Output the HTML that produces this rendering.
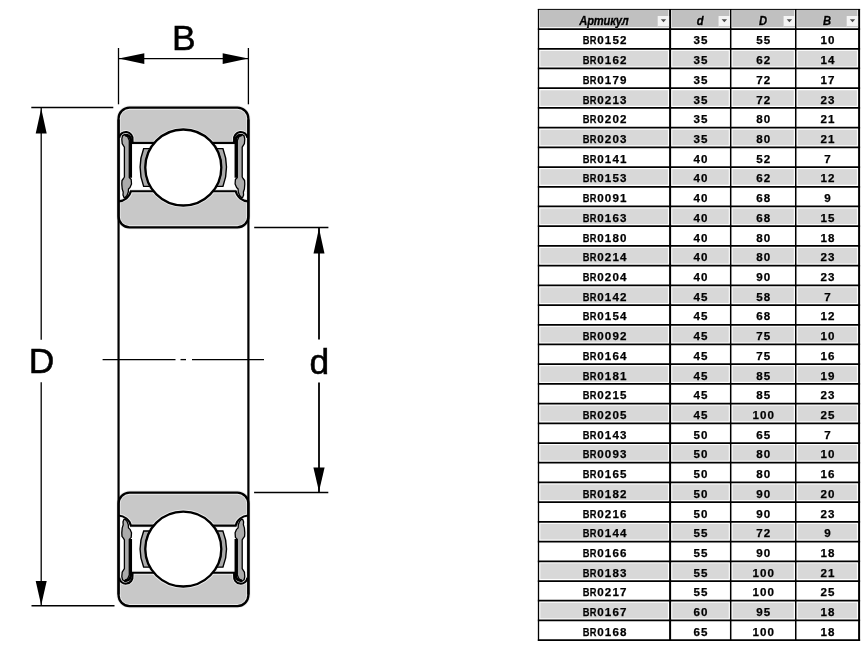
<!DOCTYPE html>
<html><head><meta charset="utf-8"><style>
html,body{margin:0;padding:0;background:#fff;width:867px;height:650px;overflow:hidden;position:relative}
body{filter:grayscale(1)}
.c,.h{position:absolute;width:80px;text-align:center;font-family:"Liberation Sans",sans-serif;font-weight:bold;font-size:11.6px;line-height:14px;color:#000;letter-spacing:0;-webkit-text-stroke:0.25px #000}
.h{font-style:italic;color:#000;letter-spacing:-0.2px;font-size:12px;transform:scaleX(0.93);-webkit-text-stroke:0.45px #000;text-shadow:0 0 1px #fff,0 0 1px #fff,0 0 1px #fff}
.c i{display:inline-block;width:7.55px;text-align:center;font-style:normal}
.c b{display:inline-block;transform:scaleX(0.8)}
</style></head><body>
<svg width="867" height="650" viewBox="0 0 867 650" style="position:absolute;left:0;top:0">
<rect x="118.55" y="107.65" width="129.85" height="119.65" rx="11" fill="#c8c8c8"/>
<rect x="118.55" y="142.9" width="129.85" height="48.3" fill="#fff"/>
<path d="M119.15 137.9 A6.6 6.6 0 0 1 132.5 139.6 L132.5 142.9 L118.55 142.9 Z" fill="#fff"/>
<path d="M118.55 201.4 C124 201 130 197 130.8 191.2 L118.55 191.2 Z" fill="#fff"/>
<path d="M247.45 137.9 A6.6 6.6 0 0 0 234.1 139.6 L234.1 142.9 L248.05 142.9 Z" fill="#fff"/>
<path d="M248.05 201.4 C242.6 201 236.6 197 235.8 191.2 L248.05 191.2 Z" fill="#fff"/>
<ellipse cx="183.3" cy="167.5" rx="38" ry="38" fill="none" stroke="#ebebeb" stroke-width="4.2"/>
<path d="M119.15 137.9 A6.6 6.6 0 0 1 132.5 139.6 L132.5 142.9" fill="none" stroke="#ebebeb" stroke-width="3.90"/>
<path d="M118.55 201.4 C124 201 130 197 130.8 191.2" fill="none" stroke="#ebebeb" stroke-width="3.90"/>
<path d="M247.45 137.9 A6.6 6.6 0 0 0 234.1 139.6 L234.1 142.9" fill="none" stroke="#ebebeb" stroke-width="3.90"/>
<path d="M248.05 201.4 C242.6 201 236.6 197 235.8 191.2" fill="none" stroke="#ebebeb" stroke-width="3.90"/>
<line x1="131.5" y1="142.9" x2="235.1" y2="142.9" stroke="#ebebeb" stroke-width="3.90"/>
<line x1="130" y1="191.2" x2="236.6" y2="191.2" stroke="#ebebeb" stroke-width="3.90"/>
<rect x="118.55" y="107.65" width="129.85" height="119.65" rx="11" fill="none" stroke="#ebebeb" stroke-width="4.10"/>
<path d="M119.15 137.9 A6.6 6.6 0 0 1 132.5 139.6 L132.5 142.9" fill="none" stroke="#000" stroke-width="2.1"/>
<path d="M118.55 201.4 C124 201 130 197 130.8 191.2" fill="none" stroke="#000" stroke-width="2.1"/>
<path d="M247.45 137.9 A6.6 6.6 0 0 0 234.1 139.6 L234.1 142.9" fill="none" stroke="#000" stroke-width="2.1"/>
<path d="M248.05 201.4 C242.6 201 236.6 197 235.8 191.2" fill="none" stroke="#000" stroke-width="2.1"/>
<line x1="131.5" y1="142.9" x2="235.1" y2="142.9" stroke="#000" stroke-width="2.1"/>
<line x1="130" y1="191.2" x2="236.6" y2="191.2" stroke="#000" stroke-width="2.1"/>
<rect x="118.55" y="107.65" width="129.85" height="119.65" rx="11" fill="none" stroke="#000" stroke-width="2.3"/>
<path d="M124.7 134.4 L127.8 137.1 L129.3 140.6 L129.3 177.5 L131.2 179.5 L131.5 184 L130 187.5 L128.5 189 L128.3 192 L127 195.5 L125 197.8 L124 197.5 L123 195 L123.2 192 L122.2 189 L121.8 184 L122 180.5 L123.5 178.5 L124.4 177 L124.4 147.1 L122.2 143.6 L121.8 139.1 L122.5 135.9 Z" fill="#ababab" stroke="#000" stroke-width="1.3" stroke-linejoin="round"/>
<path d="M124.6 135.3 A4.6 4.6 0 0 1 130.7 139.6 L130.7 177.8" fill="none" stroke="#000" stroke-width="2.7" stroke-linejoin="round"/>
<path d="M241.9 134.4 L238.8 137.1 L237.3 140.6 L237.3 177.5 L235.4 179.5 L235.1 184 L236.6 187.5 L238.1 189 L238.3 192 L239.6 195.5 L241.6 197.8 L242.6 197.5 L243.6 195 L243.4 192 L244.4 189 L244.8 184 L244.6 180.5 L243.1 178.5 L242.2 177 L242.2 147.1 L244.4 143.6 L244.8 139.1 L244.1 135.9 Z" fill="#ababab" stroke="#000" stroke-width="1.3" stroke-linejoin="round"/>
<path d="M242 135.3 A4.6 4.6 0 0 0 235.9 139.6 L235.9 177.8" fill="none" stroke="#000" stroke-width="2.7" stroke-linejoin="round"/>
<path d="M150.33 148.6 L143.7 148.6 A52.78 52.78 0 0 0 143.7 186.4 L150.33 186.4 A38 38 0 0 1 150.33 148.6 Z" fill="#ababab" stroke="#000" stroke-width="1.4"/>
<path d="M216.27 148.6 L222.9 148.6 A52.78 52.78 0 0 1 222.9 186.4 L216.27 186.4 A38 38 0 0 0 216.27 148.6 Z" fill="#ababab" stroke="#000" stroke-width="1.4"/>
<ellipse cx="183.3" cy="167.5" rx="38" ry="38" fill="#fff" stroke="#000" stroke-width="2.3"/>
<rect x="118.55" y="492.6" width="129.85" height="113.5" rx="11" fill="#c8c8c8"/>
<rect x="118.55" y="525.65" width="129.85" height="47.1" fill="#fff"/>
<path d="M119.15 577.75 A6.6 6.6 0 0 0 132.5 576.05 L132.5 572.75 L118.55 572.75 Z" fill="#fff"/>
<path d="M118.55 515.45 C124 515.85 130 519.85 130.8 525.65 L118.55 525.65 Z" fill="#fff"/>
<path d="M247.45 577.75 A6.6 6.6 0 0 1 234.1 576.05 L234.1 572.75 L248.05 572.75 Z" fill="#fff"/>
<path d="M248.05 515.45 C242.6 515.85 236.6 519.85 235.8 525.65 L248.05 525.65 Z" fill="#fff"/>
<ellipse cx="183.3" cy="549.05" rx="38" ry="37.45" fill="none" stroke="#ebebeb" stroke-width="4.2"/>
<path d="M119.15 577.75 A6.6 6.6 0 0 0 132.5 576.05 L132.5 572.75" fill="none" stroke="#ebebeb" stroke-width="3.90"/>
<path d="M118.55 515.45 C124 515.85 130 519.85 130.8 525.65" fill="none" stroke="#ebebeb" stroke-width="3.90"/>
<path d="M247.45 577.75 A6.6 6.6 0 0 1 234.1 576.05 L234.1 572.75" fill="none" stroke="#ebebeb" stroke-width="3.90"/>
<path d="M248.05 515.45 C242.6 515.85 236.6 519.85 235.8 525.65" fill="none" stroke="#ebebeb" stroke-width="3.90"/>
<line x1="131.5" y1="572.75" x2="235.1" y2="572.75" stroke="#ebebeb" stroke-width="3.90"/>
<line x1="130" y1="525.65" x2="236.6" y2="525.65" stroke="#ebebeb" stroke-width="3.90"/>
<rect x="118.55" y="492.6" width="129.85" height="113.5" rx="11" fill="none" stroke="#ebebeb" stroke-width="4.10"/>
<path d="M119.15 577.75 A6.6 6.6 0 0 0 132.5 576.05 L132.5 572.75" fill="none" stroke="#000" stroke-width="2.1"/>
<path d="M118.55 515.45 C124 515.85 130 519.85 130.8 525.65" fill="none" stroke="#000" stroke-width="2.1"/>
<path d="M247.45 577.75 A6.6 6.6 0 0 1 234.1 576.05 L234.1 572.75" fill="none" stroke="#000" stroke-width="2.1"/>
<path d="M248.05 515.45 C242.6 515.85 236.6 519.85 235.8 525.65" fill="none" stroke="#000" stroke-width="2.1"/>
<line x1="131.5" y1="572.75" x2="235.1" y2="572.75" stroke="#000" stroke-width="2.1"/>
<line x1="130" y1="525.65" x2="236.6" y2="525.65" stroke="#000" stroke-width="2.1"/>
<rect x="118.55" y="492.6" width="129.85" height="113.5" rx="11" fill="none" stroke="#000" stroke-width="2.3"/>
<path d="M124.7 581.25 L127.8 578.55 L129.3 575.05 L129.3 539.35 L131.2 537.35 L131.5 532.85 L130 529.35 L128.5 527.85 L128.3 524.85 L127 521.35 L125 519.05 L124 519.35 L123 521.85 L123.2 524.85 L122.2 527.85 L121.8 532.85 L122 536.35 L123.5 538.35 L124.4 539.85 L124.4 568.55 L122.2 572.05 L121.8 576.55 L122.5 579.75 Z" fill="#ababab" stroke="#000" stroke-width="1.3" stroke-linejoin="round"/>
<path d="M124.6 580.35 A4.6 4.6 0 0 0 130.7 576.05 L130.7 539.05" fill="none" stroke="#000" stroke-width="2.7" stroke-linejoin="round"/>
<path d="M241.9 581.25 L238.8 578.55 L237.3 575.05 L237.3 539.35 L235.4 537.35 L235.1 532.85 L236.6 529.35 L238.1 527.85 L238.3 524.85 L239.6 521.35 L241.6 519.05 L242.6 519.35 L243.6 521.85 L243.4 524.85 L244.4 527.85 L244.8 532.85 L244.6 536.35 L243.1 538.35 L242.2 539.85 L242.2 568.55 L244.4 572.05 L244.8 576.55 L244.1 579.75 Z" fill="#ababab" stroke="#000" stroke-width="1.3" stroke-linejoin="round"/>
<path d="M242 580.35 A4.6 4.6 0 0 1 235.9 576.05 L235.9 539.05" fill="none" stroke="#000" stroke-width="2.7" stroke-linejoin="round"/>
<path d="M150.03 530.95 L143.7 530.95 A48.55 48.55 0 0 0 143.7 567.15 L150.03 567.15 A38 37.45 0 0 1 150.03 530.95 Z" fill="#ababab" stroke="#000" stroke-width="1.4"/>
<path d="M216.57 530.95 L222.9 530.95 A48.55 48.55 0 0 1 222.9 567.15 L216.57 567.15 A38 37.45 0 0 0 216.57 530.95 Z" fill="#ababab" stroke="#000" stroke-width="1.4"/>
<ellipse cx="183.3" cy="549.05" rx="38" ry="37.45" fill="#fff" stroke="#000" stroke-width="2.3"/>
<line x1="118.55" y1="119.5" x2="118.55" y2="594.5" stroke="#000" stroke-width="2.2"/>
<line x1="248.4" y1="119.5" x2="248.4" y2="594.5" stroke="#000" stroke-width="2.2"/>
<g stroke="#000" stroke-width="1.3">
<line x1="102.6" y1="359.6" x2="175.5" y2="359.6"/>
<line x1="180.5" y1="359.6" x2="186" y2="359.6"/>
<line x1="192" y1="359.6" x2="264" y2="359.6"/>
<line x1="118.5" y1="48" x2="118.5" y2="104.3"/>
<line x1="248.4" y1="48" x2="248.4" y2="104.3"/>
<line x1="118.5" y1="58.6" x2="248.4" y2="58.6"/>
<line x1="31.3" y1="107.45" x2="113.3" y2="107.45" stroke-width="1.5"/>
<line x1="31.5" y1="605.85" x2="114.5" y2="605.85" stroke-width="1.5"/>
<line x1="41.2" y1="107.4" x2="41.2" y2="339.7"/>
<line x1="41.2" y1="382.2" x2="41.2" y2="606"/>
<line x1="254.2" y1="227.5" x2="328.4" y2="227.5" stroke-width="1.5"/>
<line x1="254.1" y1="492.4" x2="328.3" y2="492.4" stroke-width="1.5"/>
<line x1="319" y1="227.5" x2="319" y2="339.5" stroke-width="1.8"/>
<line x1="319" y1="382.4" x2="319" y2="492.4" stroke-width="1.8"/>
</g>
<path d="M118.8 58.6 L144.3 53.2 L144.3 64 Z" fill="#000"/>
<path d="M248.2 58.6 L222.7 64 L222.7 53.2 Z" fill="#000"/>
<path d="M41.2 108.4 L46.7 133.6 L35.7 133.6 Z" fill="#000"/>
<path d="M41.2 605.3 L35.7 581.1 L46.7 581.1 Z" fill="#000"/>
<path d="M319 228.2 L324.5 253.4 L313.5 253.4 Z" fill="#000"/>
<path d="M319 491.6 L313.4 467.4 L324.6 467.4 Z" fill="#000"/>
<g font-family="Liberation Sans, sans-serif" font-size="35.4" fill="#000" stroke="#000" stroke-width="0.55">
<text x="183.8" y="49.9" text-anchor="middle">B</text>
<text x="41.6" y="373.2" text-anchor="middle">D</text>
<text x="319.4" y="374.2" text-anchor="middle">d</text>
</g>
</svg>
<svg width="867" height="650" style="position:absolute;left:0;top:0"><rect x="538.5" y="9.4" width="320.60" height="630.75" fill="#fff"/><rect x="539.85" y="9.90" width="128.55" height="17.27" fill="#c0c0c0"/><rect x="671.80" y="9.90" width="57.45" height="17.27" fill="#c0c0c0"/><rect x="732.15" y="9.90" width="62.15" height="17.27" fill="#c0c0c0"/><rect x="797.20" y="9.90" width="60.20" height="17.27" fill="#c0c0c0"/><rect x="540.35" y="50.84" width="127.55" height="15.56" fill="#d8d8d8"/><rect x="672.30" y="50.84" width="56.45" height="15.56" fill="#d8d8d8"/><rect x="732.65" y="50.84" width="61.15" height="15.56" fill="#d8d8d8"/><rect x="797.70" y="50.84" width="59.20" height="15.56" fill="#d8d8d8"/><rect x="540.35" y="90.26" width="127.55" height="15.56" fill="#d8d8d8"/><rect x="672.30" y="90.26" width="56.45" height="15.56" fill="#d8d8d8"/><rect x="732.65" y="90.26" width="61.15" height="15.56" fill="#d8d8d8"/><rect x="797.70" y="90.26" width="59.20" height="15.56" fill="#d8d8d8"/><rect x="540.35" y="129.69" width="127.55" height="15.56" fill="#d8d8d8"/><rect x="672.30" y="129.69" width="56.45" height="15.56" fill="#d8d8d8"/><rect x="732.65" y="129.69" width="61.15" height="15.56" fill="#d8d8d8"/><rect x="797.70" y="129.69" width="59.20" height="15.56" fill="#d8d8d8"/><rect x="540.35" y="169.12" width="127.55" height="15.56" fill="#d8d8d8"/><rect x="672.30" y="169.12" width="56.45" height="15.56" fill="#d8d8d8"/><rect x="732.65" y="169.12" width="61.15" height="15.56" fill="#d8d8d8"/><rect x="797.70" y="169.12" width="59.20" height="15.56" fill="#d8d8d8"/><rect x="540.35" y="208.54" width="127.55" height="15.56" fill="#d8d8d8"/><rect x="672.30" y="208.54" width="56.45" height="15.56" fill="#d8d8d8"/><rect x="732.65" y="208.54" width="61.15" height="15.56" fill="#d8d8d8"/><rect x="797.70" y="208.54" width="59.20" height="15.56" fill="#d8d8d8"/><rect x="540.35" y="247.97" width="127.55" height="15.56" fill="#d8d8d8"/><rect x="672.30" y="247.97" width="56.45" height="15.56" fill="#d8d8d8"/><rect x="732.65" y="247.97" width="61.15" height="15.56" fill="#d8d8d8"/><rect x="797.70" y="247.97" width="59.20" height="15.56" fill="#d8d8d8"/><rect x="540.35" y="287.39" width="127.55" height="15.56" fill="#d8d8d8"/><rect x="672.30" y="287.39" width="56.45" height="15.56" fill="#d8d8d8"/><rect x="732.65" y="287.39" width="61.15" height="15.56" fill="#d8d8d8"/><rect x="797.70" y="287.39" width="59.20" height="15.56" fill="#d8d8d8"/><rect x="540.35" y="326.82" width="127.55" height="15.56" fill="#d8d8d8"/><rect x="672.30" y="326.82" width="56.45" height="15.56" fill="#d8d8d8"/><rect x="732.65" y="326.82" width="61.15" height="15.56" fill="#d8d8d8"/><rect x="797.70" y="326.82" width="59.20" height="15.56" fill="#d8d8d8"/><rect x="540.35" y="366.25" width="127.55" height="15.56" fill="#d8d8d8"/><rect x="672.30" y="366.25" width="56.45" height="15.56" fill="#d8d8d8"/><rect x="732.65" y="366.25" width="61.15" height="15.56" fill="#d8d8d8"/><rect x="797.70" y="366.25" width="59.20" height="15.56" fill="#d8d8d8"/><rect x="540.35" y="405.67" width="127.55" height="15.56" fill="#d8d8d8"/><rect x="672.30" y="405.67" width="56.45" height="15.56" fill="#d8d8d8"/><rect x="732.65" y="405.67" width="61.15" height="15.56" fill="#d8d8d8"/><rect x="797.70" y="405.67" width="59.20" height="15.56" fill="#d8d8d8"/><rect x="540.35" y="445.10" width="127.55" height="15.56" fill="#d8d8d8"/><rect x="672.30" y="445.10" width="56.45" height="15.56" fill="#d8d8d8"/><rect x="732.65" y="445.10" width="61.15" height="15.56" fill="#d8d8d8"/><rect x="797.70" y="445.10" width="59.20" height="15.56" fill="#d8d8d8"/><rect x="540.35" y="484.52" width="127.55" height="15.56" fill="#d8d8d8"/><rect x="672.30" y="484.52" width="56.45" height="15.56" fill="#d8d8d8"/><rect x="732.65" y="484.52" width="61.15" height="15.56" fill="#d8d8d8"/><rect x="797.70" y="484.52" width="59.20" height="15.56" fill="#d8d8d8"/><rect x="540.35" y="523.95" width="127.55" height="15.56" fill="#d8d8d8"/><rect x="672.30" y="523.95" width="56.45" height="15.56" fill="#d8d8d8"/><rect x="732.65" y="523.95" width="61.15" height="15.56" fill="#d8d8d8"/><rect x="797.70" y="523.95" width="59.20" height="15.56" fill="#d8d8d8"/><rect x="540.35" y="563.38" width="127.55" height="15.56" fill="#d8d8d8"/><rect x="672.30" y="563.38" width="56.45" height="15.56" fill="#d8d8d8"/><rect x="732.65" y="563.38" width="61.15" height="15.56" fill="#d8d8d8"/><rect x="797.70" y="563.38" width="59.20" height="15.56" fill="#d8d8d8"/><rect x="540.35" y="602.80" width="127.55" height="15.56" fill="#d8d8d8"/><rect x="672.30" y="602.80" width="56.45" height="15.56" fill="#d8d8d8"/><rect x="732.65" y="602.80" width="61.15" height="15.56" fill="#d8d8d8"/><rect x="797.70" y="602.80" width="59.20" height="15.56" fill="#d8d8d8"/><g stroke="#000"><line x1="537.85" y1="9.4" x2="860.1" y2="9.4" stroke-width="1.0"/><line x1="537.85" y1="29.05" x2="860.1" y2="29.05" stroke-width="1.75"/><line x1="537.85" y1="48.76" x2="860.1" y2="48.76" stroke-width="1.75"/><line x1="537.85" y1="68.48" x2="860.1" y2="68.48" stroke-width="1.75"/><line x1="537.85" y1="88.19" x2="860.1" y2="88.19" stroke-width="1.75"/><line x1="537.85" y1="107.90" x2="860.1" y2="107.90" stroke-width="1.75"/><line x1="537.85" y1="127.61" x2="860.1" y2="127.61" stroke-width="1.75"/><line x1="537.85" y1="147.33" x2="860.1" y2="147.33" stroke-width="1.75"/><line x1="537.85" y1="167.04" x2="860.1" y2="167.04" stroke-width="1.75"/><line x1="537.85" y1="186.75" x2="860.1" y2="186.75" stroke-width="1.75"/><line x1="537.85" y1="206.47" x2="860.1" y2="206.47" stroke-width="1.75"/><line x1="537.85" y1="226.18" x2="860.1" y2="226.18" stroke-width="1.75"/><line x1="537.85" y1="245.89" x2="860.1" y2="245.89" stroke-width="1.75"/><line x1="537.85" y1="265.61" x2="860.1" y2="265.61" stroke-width="1.75"/><line x1="537.85" y1="285.32" x2="860.1" y2="285.32" stroke-width="1.75"/><line x1="537.85" y1="305.03" x2="860.1" y2="305.03" stroke-width="1.75"/><line x1="537.85" y1="324.75" x2="860.1" y2="324.75" stroke-width="1.75"/><line x1="537.85" y1="344.46" x2="860.1" y2="344.46" stroke-width="1.75"/><line x1="537.85" y1="364.17" x2="860.1" y2="364.17" stroke-width="1.75"/><line x1="537.85" y1="383.88" x2="860.1" y2="383.88" stroke-width="1.75"/><line x1="537.85" y1="403.60" x2="860.1" y2="403.60" stroke-width="1.75"/><line x1="537.85" y1="423.31" x2="860.1" y2="423.31" stroke-width="1.75"/><line x1="537.85" y1="443.02" x2="860.1" y2="443.02" stroke-width="1.75"/><line x1="537.85" y1="462.74" x2="860.1" y2="462.74" stroke-width="1.75"/><line x1="537.85" y1="482.45" x2="860.1" y2="482.45" stroke-width="1.75"/><line x1="537.85" y1="502.16" x2="860.1" y2="502.16" stroke-width="1.75"/><line x1="537.85" y1="521.88" x2="860.1" y2="521.88" stroke-width="1.75"/><line x1="537.85" y1="541.59" x2="860.1" y2="541.59" stroke-width="1.75"/><line x1="537.85" y1="561.30" x2="860.1" y2="561.30" stroke-width="1.75"/><line x1="537.85" y1="581.01" x2="860.1" y2="581.01" stroke-width="1.75"/><line x1="537.85" y1="600.73" x2="860.1" y2="600.73" stroke-width="1.75"/><line x1="537.85" y1="620.44" x2="860.1" y2="620.44" stroke-width="1.75"/><line x1="537.85" y1="640.15" x2="860.1" y2="640.15" stroke-width="1.75"/><line x1="538.5" y1="8.9" x2="538.5" y2="641.03" stroke-width="1.3"/><line x1="670.1" y1="8.9" x2="670.1" y2="641.03" stroke-width="2.0"/><line x1="730.7" y1="8.9" x2="730.7" y2="641.03" stroke-width="1.5"/><line x1="795.75" y1="8.9" x2="795.75" y2="641.03" stroke-width="1.5"/><line x1="859.1" y1="8.9" x2="859.1" y2="641.03" stroke-width="2.0"/></g><rect x="657.70" y="16" width="11.4" height="11.4" fill="#f3f4f7"/><rect x="657.70" y="26.2" width="11.4" height="0.9" fill="#b9bfc9"/><path d="M660.80 19.3 L666.20 19.3 L663.50 22.2 Z" fill="#4a4a4a"/><rect x="718.55" y="16" width="11.4" height="11.4" fill="#f3f4f7"/><rect x="718.55" y="26.2" width="11.4" height="0.9" fill="#b9bfc9"/><path d="M721.65 19.3 L727.05 19.3 L724.35 22.2 Z" fill="#4a4a4a"/><rect x="783.60" y="16" width="11.4" height="11.4" fill="#f3f4f7"/><rect x="783.60" y="26.2" width="11.4" height="0.9" fill="#b9bfc9"/><path d="M786.70 19.3 L792.10 19.3 L789.40 22.2 Z" fill="#4a4a4a"/><rect x="846.70" y="16" width="11.4" height="11.4" fill="#f3f4f7"/><rect x="846.70" y="26.2" width="11.4" height="0.9" fill="#b9bfc9"/><path d="M849.80 19.3 L855.20 19.3 L852.50 22.2 Z" fill="#4a4a4a"/></svg>
<div class="h" style="left:564.30px;top:13.9px">Артикул</div>
<div class="h" style="left:660.40px;top:13.9px">d</div>
<div class="h" style="left:723.23px;top:13.9px">D</div>
<div class="h" style="left:787.42px;top:13.9px">B</div>
<div class="c" style="left:564.30px;top:33.40px"><i><b>B</b></i><i><b>R</b></i><i>0</i><i>1</i><i>5</i><i>2</i></div>
<div class="c" style="left:660.40px;top:33.40px"><i>3</i><i>5</i></div>
<div class="c" style="left:723.23px;top:33.40px"><i>5</i><i>5</i></div>
<div class="c" style="left:787.42px;top:33.40px"><i>1</i><i>0</i></div>
<div class="c" style="left:564.30px;top:53.11px"><i><b>B</b></i><i><b>R</b></i><i>0</i><i>1</i><i>6</i><i>2</i></div>
<div class="c" style="left:660.40px;top:53.11px"><i>3</i><i>5</i></div>
<div class="c" style="left:723.23px;top:53.11px"><i>6</i><i>2</i></div>
<div class="c" style="left:787.42px;top:53.11px"><i>1</i><i>4</i></div>
<div class="c" style="left:564.30px;top:72.83px"><i><b>B</b></i><i><b>R</b></i><i>0</i><i>1</i><i>7</i><i>9</i></div>
<div class="c" style="left:660.40px;top:72.83px"><i>3</i><i>5</i></div>
<div class="c" style="left:723.23px;top:72.83px"><i>7</i><i>2</i></div>
<div class="c" style="left:787.42px;top:72.83px"><i>1</i><i>7</i></div>
<div class="c" style="left:564.30px;top:92.54px"><i><b>B</b></i><i><b>R</b></i><i>0</i><i>2</i><i>1</i><i>3</i></div>
<div class="c" style="left:660.40px;top:92.54px"><i>3</i><i>5</i></div>
<div class="c" style="left:723.23px;top:92.54px"><i>7</i><i>2</i></div>
<div class="c" style="left:787.42px;top:92.54px"><i>2</i><i>3</i></div>
<div class="c" style="left:564.30px;top:112.25px"><i><b>B</b></i><i><b>R</b></i><i>0</i><i>2</i><i>0</i><i>2</i></div>
<div class="c" style="left:660.40px;top:112.25px"><i>3</i><i>5</i></div>
<div class="c" style="left:723.23px;top:112.25px"><i>8</i><i>0</i></div>
<div class="c" style="left:787.42px;top:112.25px"><i>2</i><i>1</i></div>
<div class="c" style="left:564.30px;top:131.97px"><i><b>B</b></i><i><b>R</b></i><i>0</i><i>2</i><i>0</i><i>3</i></div>
<div class="c" style="left:660.40px;top:131.97px"><i>3</i><i>5</i></div>
<div class="c" style="left:723.23px;top:131.97px"><i>8</i><i>0</i></div>
<div class="c" style="left:787.42px;top:131.97px"><i>2</i><i>1</i></div>
<div class="c" style="left:564.30px;top:151.68px"><i><b>B</b></i><i><b>R</b></i><i>0</i><i>1</i><i>4</i><i>1</i></div>
<div class="c" style="left:660.40px;top:151.68px"><i>4</i><i>0</i></div>
<div class="c" style="left:723.23px;top:151.68px"><i>5</i><i>2</i></div>
<div class="c" style="left:787.42px;top:151.68px"><i>7</i></div>
<div class="c" style="left:564.30px;top:171.39px"><i><b>B</b></i><i><b>R</b></i><i>0</i><i>1</i><i>5</i><i>3</i></div>
<div class="c" style="left:660.40px;top:171.39px"><i>4</i><i>0</i></div>
<div class="c" style="left:723.23px;top:171.39px"><i>6</i><i>2</i></div>
<div class="c" style="left:787.42px;top:171.39px"><i>1</i><i>2</i></div>
<div class="c" style="left:564.30px;top:191.10px"><i><b>B</b></i><i><b>R</b></i><i>0</i><i>0</i><i>9</i><i>1</i></div>
<div class="c" style="left:660.40px;top:191.10px"><i>4</i><i>0</i></div>
<div class="c" style="left:723.23px;top:191.10px"><i>6</i><i>8</i></div>
<div class="c" style="left:787.42px;top:191.10px"><i>9</i></div>
<div class="c" style="left:564.30px;top:210.82px"><i><b>B</b></i><i><b>R</b></i><i>0</i><i>1</i><i>6</i><i>3</i></div>
<div class="c" style="left:660.40px;top:210.82px"><i>4</i><i>0</i></div>
<div class="c" style="left:723.23px;top:210.82px"><i>6</i><i>8</i></div>
<div class="c" style="left:787.42px;top:210.82px"><i>1</i><i>5</i></div>
<div class="c" style="left:564.30px;top:230.53px"><i><b>B</b></i><i><b>R</b></i><i>0</i><i>1</i><i>8</i><i>0</i></div>
<div class="c" style="left:660.40px;top:230.53px"><i>4</i><i>0</i></div>
<div class="c" style="left:723.23px;top:230.53px"><i>8</i><i>0</i></div>
<div class="c" style="left:787.42px;top:230.53px"><i>1</i><i>8</i></div>
<div class="c" style="left:564.30px;top:250.24px"><i><b>B</b></i><i><b>R</b></i><i>0</i><i>2</i><i>1</i><i>4</i></div>
<div class="c" style="left:660.40px;top:250.24px"><i>4</i><i>0</i></div>
<div class="c" style="left:723.23px;top:250.24px"><i>8</i><i>0</i></div>
<div class="c" style="left:787.42px;top:250.24px"><i>2</i><i>3</i></div>
<div class="c" style="left:564.30px;top:269.96px"><i><b>B</b></i><i><b>R</b></i><i>0</i><i>2</i><i>0</i><i>4</i></div>
<div class="c" style="left:660.40px;top:269.96px"><i>4</i><i>0</i></div>
<div class="c" style="left:723.23px;top:269.96px"><i>9</i><i>0</i></div>
<div class="c" style="left:787.42px;top:269.96px"><i>2</i><i>3</i></div>
<div class="c" style="left:564.30px;top:289.67px"><i><b>B</b></i><i><b>R</b></i><i>0</i><i>1</i><i>4</i><i>2</i></div>
<div class="c" style="left:660.40px;top:289.67px"><i>4</i><i>5</i></div>
<div class="c" style="left:723.23px;top:289.67px"><i>5</i><i>8</i></div>
<div class="c" style="left:787.42px;top:289.67px"><i>7</i></div>
<div class="c" style="left:564.30px;top:309.38px"><i><b>B</b></i><i><b>R</b></i><i>0</i><i>1</i><i>5</i><i>4</i></div>
<div class="c" style="left:660.40px;top:309.38px"><i>4</i><i>5</i></div>
<div class="c" style="left:723.23px;top:309.38px"><i>6</i><i>8</i></div>
<div class="c" style="left:787.42px;top:309.38px"><i>1</i><i>2</i></div>
<div class="c" style="left:564.30px;top:329.10px"><i><b>B</b></i><i><b>R</b></i><i>0</i><i>0</i><i>9</i><i>2</i></div>
<div class="c" style="left:660.40px;top:329.10px"><i>4</i><i>5</i></div>
<div class="c" style="left:723.23px;top:329.10px"><i>7</i><i>5</i></div>
<div class="c" style="left:787.42px;top:329.10px"><i>1</i><i>0</i></div>
<div class="c" style="left:564.30px;top:348.81px"><i><b>B</b></i><i><b>R</b></i><i>0</i><i>1</i><i>6</i><i>4</i></div>
<div class="c" style="left:660.40px;top:348.81px"><i>4</i><i>5</i></div>
<div class="c" style="left:723.23px;top:348.81px"><i>7</i><i>5</i></div>
<div class="c" style="left:787.42px;top:348.81px"><i>1</i><i>6</i></div>
<div class="c" style="left:564.30px;top:368.52px"><i><b>B</b></i><i><b>R</b></i><i>0</i><i>1</i><i>8</i><i>1</i></div>
<div class="c" style="left:660.40px;top:368.52px"><i>4</i><i>5</i></div>
<div class="c" style="left:723.23px;top:368.52px"><i>8</i><i>5</i></div>
<div class="c" style="left:787.42px;top:368.52px"><i>1</i><i>9</i></div>
<div class="c" style="left:564.30px;top:388.23px"><i><b>B</b></i><i><b>R</b></i><i>0</i><i>2</i><i>1</i><i>5</i></div>
<div class="c" style="left:660.40px;top:388.23px"><i>4</i><i>5</i></div>
<div class="c" style="left:723.23px;top:388.23px"><i>8</i><i>5</i></div>
<div class="c" style="left:787.42px;top:388.23px"><i>2</i><i>3</i></div>
<div class="c" style="left:564.30px;top:407.95px"><i><b>B</b></i><i><b>R</b></i><i>0</i><i>2</i><i>0</i><i>5</i></div>
<div class="c" style="left:660.40px;top:407.95px"><i>4</i><i>5</i></div>
<div class="c" style="left:723.23px;top:407.95px"><i>1</i><i>0</i><i>0</i></div>
<div class="c" style="left:787.42px;top:407.95px"><i>2</i><i>5</i></div>
<div class="c" style="left:564.30px;top:427.66px"><i><b>B</b></i><i><b>R</b></i><i>0</i><i>1</i><i>4</i><i>3</i></div>
<div class="c" style="left:660.40px;top:427.66px"><i>5</i><i>0</i></div>
<div class="c" style="left:723.23px;top:427.66px"><i>6</i><i>5</i></div>
<div class="c" style="left:787.42px;top:427.66px"><i>7</i></div>
<div class="c" style="left:564.30px;top:447.37px"><i><b>B</b></i><i><b>R</b></i><i>0</i><i>0</i><i>9</i><i>3</i></div>
<div class="c" style="left:660.40px;top:447.37px"><i>5</i><i>0</i></div>
<div class="c" style="left:723.23px;top:447.37px"><i>8</i><i>0</i></div>
<div class="c" style="left:787.42px;top:447.37px"><i>1</i><i>0</i></div>
<div class="c" style="left:564.30px;top:467.09px"><i><b>B</b></i><i><b>R</b></i><i>0</i><i>1</i><i>6</i><i>5</i></div>
<div class="c" style="left:660.40px;top:467.09px"><i>5</i><i>0</i></div>
<div class="c" style="left:723.23px;top:467.09px"><i>8</i><i>0</i></div>
<div class="c" style="left:787.42px;top:467.09px"><i>1</i><i>6</i></div>
<div class="c" style="left:564.30px;top:486.80px"><i><b>B</b></i><i><b>R</b></i><i>0</i><i>1</i><i>8</i><i>2</i></div>
<div class="c" style="left:660.40px;top:486.80px"><i>5</i><i>0</i></div>
<div class="c" style="left:723.23px;top:486.80px"><i>9</i><i>0</i></div>
<div class="c" style="left:787.42px;top:486.80px"><i>2</i><i>0</i></div>
<div class="c" style="left:564.30px;top:506.51px"><i><b>B</b></i><i><b>R</b></i><i>0</i><i>2</i><i>1</i><i>6</i></div>
<div class="c" style="left:660.40px;top:506.51px"><i>5</i><i>0</i></div>
<div class="c" style="left:723.23px;top:506.51px"><i>9</i><i>0</i></div>
<div class="c" style="left:787.42px;top:506.51px"><i>2</i><i>3</i></div>
<div class="c" style="left:564.30px;top:526.23px"><i><b>B</b></i><i><b>R</b></i><i>0</i><i>1</i><i>4</i><i>4</i></div>
<div class="c" style="left:660.40px;top:526.23px"><i>5</i><i>5</i></div>
<div class="c" style="left:723.23px;top:526.23px"><i>7</i><i>2</i></div>
<div class="c" style="left:787.42px;top:526.23px"><i>9</i></div>
<div class="c" style="left:564.30px;top:545.94px"><i><b>B</b></i><i><b>R</b></i><i>0</i><i>1</i><i>6</i><i>6</i></div>
<div class="c" style="left:660.40px;top:545.94px"><i>5</i><i>5</i></div>
<div class="c" style="left:723.23px;top:545.94px"><i>9</i><i>0</i></div>
<div class="c" style="left:787.42px;top:545.94px"><i>1</i><i>8</i></div>
<div class="c" style="left:564.30px;top:565.65px"><i><b>B</b></i><i><b>R</b></i><i>0</i><i>1</i><i>8</i><i>3</i></div>
<div class="c" style="left:660.40px;top:565.65px"><i>5</i><i>5</i></div>
<div class="c" style="left:723.23px;top:565.65px"><i>1</i><i>0</i><i>0</i></div>
<div class="c" style="left:787.42px;top:565.65px"><i>2</i><i>1</i></div>
<div class="c" style="left:564.30px;top:585.36px"><i><b>B</b></i><i><b>R</b></i><i>0</i><i>2</i><i>1</i><i>7</i></div>
<div class="c" style="left:660.40px;top:585.36px"><i>5</i><i>5</i></div>
<div class="c" style="left:723.23px;top:585.36px"><i>1</i><i>0</i><i>0</i></div>
<div class="c" style="left:787.42px;top:585.36px"><i>2</i><i>5</i></div>
<div class="c" style="left:564.30px;top:605.08px"><i><b>B</b></i><i><b>R</b></i><i>0</i><i>1</i><i>6</i><i>7</i></div>
<div class="c" style="left:660.40px;top:605.08px"><i>6</i><i>0</i></div>
<div class="c" style="left:723.23px;top:605.08px"><i>9</i><i>5</i></div>
<div class="c" style="left:787.42px;top:605.08px"><i>1</i><i>8</i></div>
<div class="c" style="left:564.30px;top:624.79px"><i><b>B</b></i><i><b>R</b></i><i>0</i><i>1</i><i>6</i><i>8</i></div>
<div class="c" style="left:660.40px;top:624.79px"><i>6</i><i>5</i></div>
<div class="c" style="left:723.23px;top:624.79px"><i>1</i><i>0</i><i>0</i></div>
<div class="c" style="left:787.42px;top:624.79px"><i>1</i><i>8</i></div>
</body></html>
